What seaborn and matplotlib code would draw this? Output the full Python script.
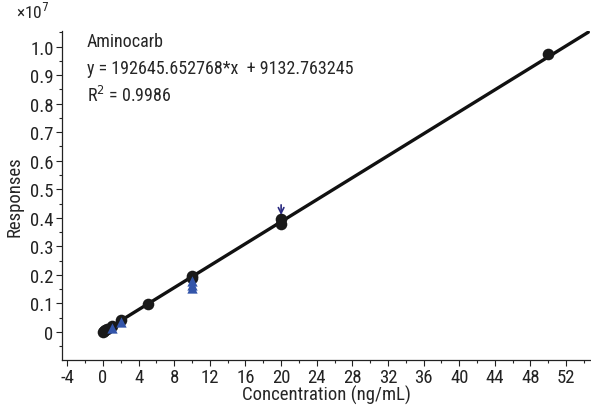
import matplotlib
matplotlib.use("Agg")
import matplotlib.pyplot as plt
import seaborn as sns
import numpy as np
import pandas as pd
from matplotlib.ticker import MultipleLocator, FixedLocator, FuncFormatter
from matplotlib import font_manager as fm

sns.set_style("ticks")
names = {f.name for f in fm.fontManager.ttflist}
fam = [n for n in ["Liberation Sans Narrow", "Roboto Condensed", "Open Sans Condensed"] if n in names]
plt.rcParams['font.family'] = fam + ['DejaVu Sans']
plt.rcParams['font.stretch'] = 'condensed'

# calibration data (responses in units of 1e7)
circle_conc = [0.0, 0.1, 0.2, 0.5, 1, 2, 5, 10, 10, 20, 20, 50]
circle_resp = [0.001, 0.003, 0.005, 0.010, 0.020, 0.040, 0.097, 0.195, 0.190, 0.378, 0.395, 0.975]
tri_conc = [1, 2, 10, 10, 10]
tri_resp = [0.015, 0.035, 0.155, 0.165, 0.178]
slope = 192645.652768
intercept = 9132.763245
fit_x = [0.0, 54.5]
fit_y = [(slope * x + intercept) / 1e7 for x in fit_x]

circles = pd.DataFrame({"conc": circle_conc, "resp": circle_resp})
tris = pd.DataFrame({"conc": tri_conc, "resp": tri_resp})
fit = pd.DataFrame({"conc": fit_x, "resp": fit_y})

fig = plt.figure(figsize=(5.91, 4.10), dpi=100)
ax = fig.add_axes([0.105, 0.12, 0.895, 0.802])

sns.lineplot(data=fit, x="conc", y="resp", ax=ax, color="#111111", linewidth=2.4, zorder=2)
sns.scatterplot(data=tris, x="conc", y="resp", ax=ax, marker="^", s=55, color="#3355aa",
                edgecolor="#3355aa", linewidth=0, zorder=4)
sns.scatterplot(data=circles, x="conc", y="resp", ax=ax, marker="o", s=70, color="#1a1a1a",
                edgecolor="#1a1a1a", linewidth=0, zorder=3)

ax.annotate("", xy=(20, 0.40), xytext=(20, 0.455),
            arrowprops=dict(arrowstyle="->", color="#2a2a80", lw=1.2))

ax.set_xlim(-4.6, 54.8)
ax.set_ylim(-0.098, 1.055)
ax.xaxis.set_major_locator(MultipleLocator(4))
ax.xaxis.set_minor_locator(MultipleLocator(2))
ax.yaxis.set_major_locator(FixedLocator(np.round(np.arange(0, 1.01, 0.1), 2)))
ax.yaxis.set_minor_locator(MultipleLocator(0.05))
ax.yaxis.set_major_formatter(FuncFormatter(lambda v, p: "0" if abs(v) < 1e-9 else f"{v:.1f}"))
ax.xaxis.set_major_formatter(FuncFormatter(lambda v, p: f"{v:.0f}"))

ax.tick_params(axis="both", which="major", direction="out", length=4, width=0.8, labelsize=13.5, pad=2, colors="#222222")
ax.tick_params(axis="both", which="minor", direction="out", length=2.5, width=0.8)
for s in ["top", "right"]:
    ax.spines[s].set_visible(False)
for s in ["left", "bottom"]:
    ax.spines[s].set_linewidth(0.9)
    ax.spines[s].set_color("#222222")

ax.set_xlabel("Concentration (ng/mL)", fontsize=13.5, labelpad=-1)
ax.set_ylabel("Responses", fontsize=13.5, labelpad=5)

ax.text(-1.8, 1.02, "Aminocarb", fontsize=13, va="center", ha="left")
ax.text(-1.8, 0.925, "y = 192645.652768*x  + 9132.763245", fontsize=13, va="center", ha="left")
ax.text(-1.8, 0.83, r"R$^2$ = 0.9986", fontsize=13, va="center", ha="left")
fig.text(0.027, 0.97, r"×10$^7$", fontsize=12.5, va="center", ha="left")

fig.savefig("out.png", dpi=100)
